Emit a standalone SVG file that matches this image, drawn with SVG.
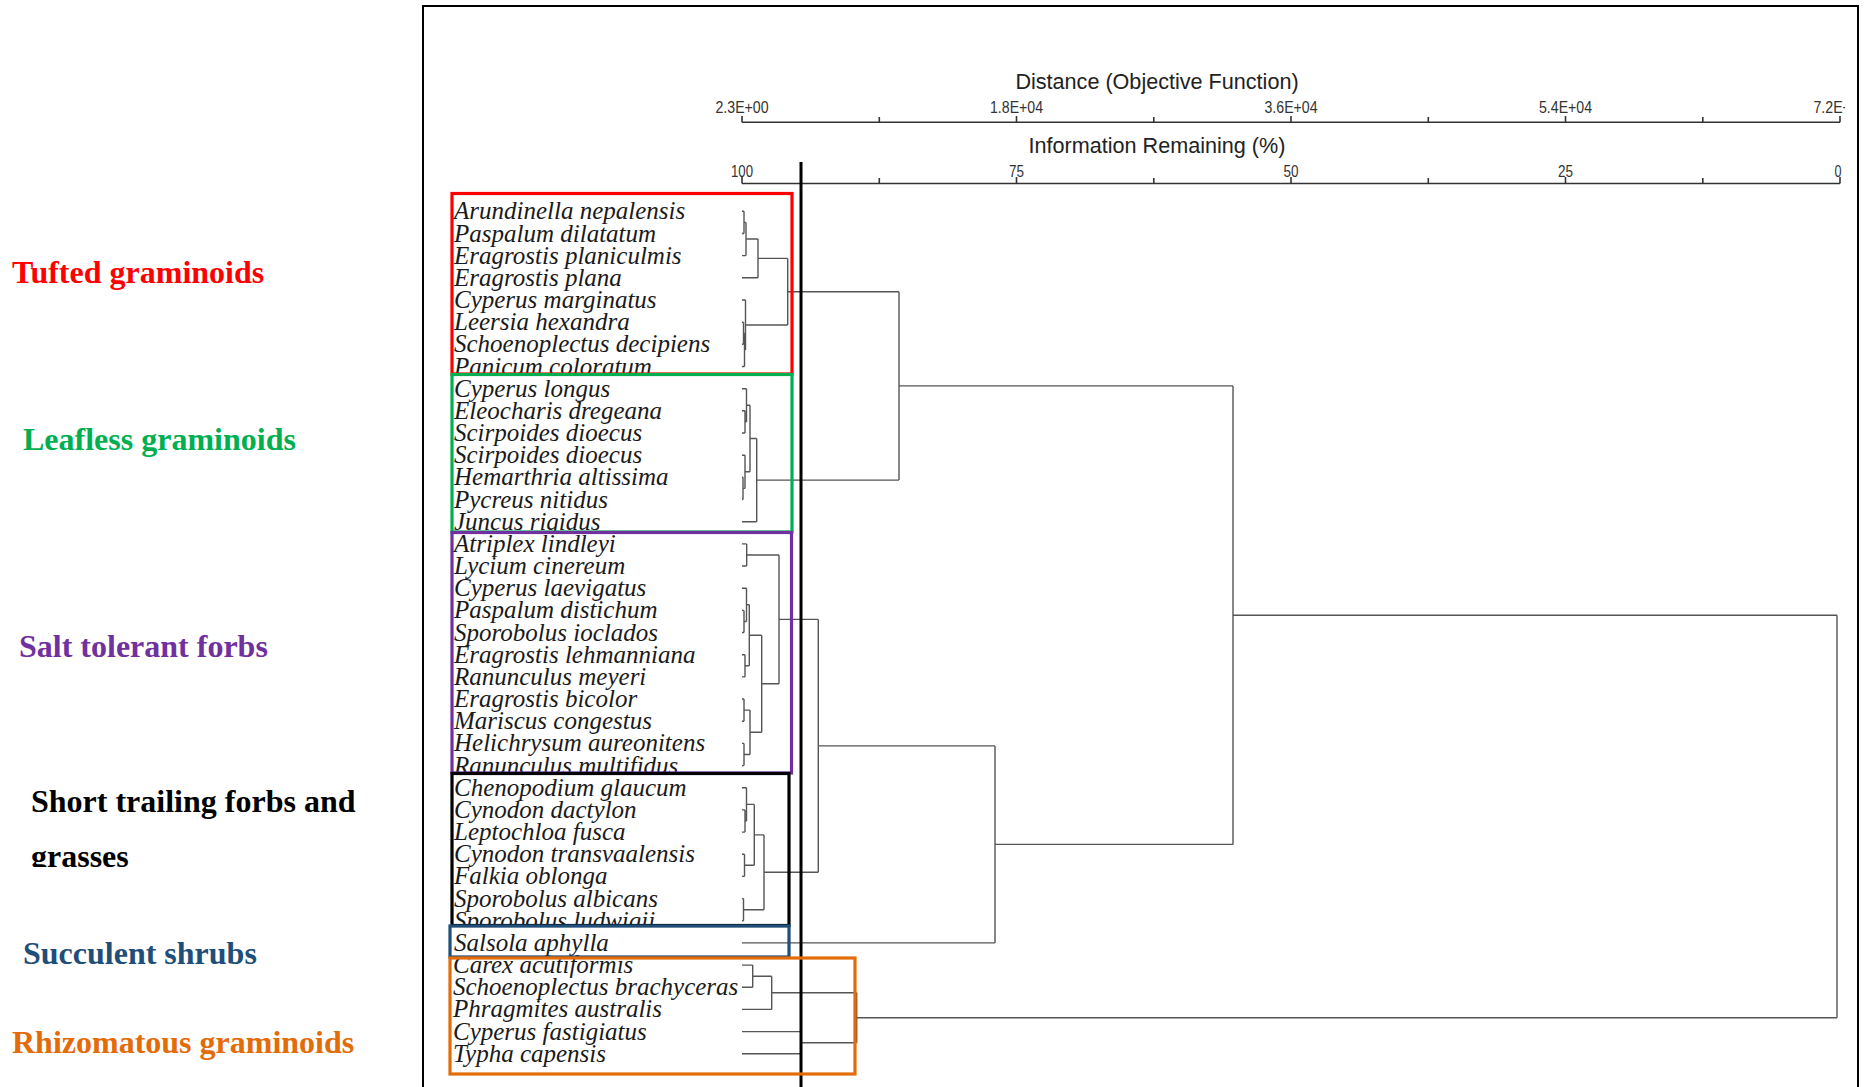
<svg xmlns="http://www.w3.org/2000/svg" width="1870" height="1087" viewBox="0 0 1870 1087">
<style>
.sp{font-family:"Liberation Serif","Times New Roman",serif;font-style:italic;font-size:25px;fill:#1a1a1a}
.grp{font-family:"Liberation Serif","Times New Roman",serif;font-weight:bold;font-size:32px}
.ax{font-family:"Liberation Sans",Arial,sans-serif;fill:#222}
.tk{font-family:"Liberation Sans",Arial,sans-serif;font-size:16px;fill:#333}
.box{fill:none;stroke-width:3.2}
.axl{fill:none;stroke:#333;stroke-width:1.6}
.den{fill:none;stroke:#555;stroke-width:1.4}
</style>
<defs>
<clipPath id="c7"><rect x="0" y="0" width="1870" height="373"/></clipPath>
<clipPath id="c14"><rect x="0" y="0" width="1870" height="531"/></clipPath>
<clipPath id="c25"><rect x="0" y="0" width="1870" height="772"/></clipPath>
<clipPath id="c32"><rect x="0" y="0" width="1870" height="924.5"/></clipPath>
<clipPath id="c33"><rect x="0" y="0" width="1870" height="956"/></clipPath>
<clipPath id="cgr"><rect x="0" y="0" width="420" height="867"/></clipPath>
<clipPath id="cfr"><rect x="0" y="0" width="1845" height="1087"/></clipPath>
</defs>
<rect width="1870" height="1087" fill="#fff"/>

<g id="frame"><rect x="423" y="6" width="1435" height="1090" fill="none" stroke="#000" stroke-width="2"/></g>

<g id="axis-distance">
<text class="ax" x="1157" y="89" font-size="21.6" text-anchor="middle">Distance (Objective Function)</text>
<path class="axl" d="M742 122.3H1840 M742 116V122.3 M879.3 117V122.3 M1016.5 116V122.3 M1153.8 117V122.3 M1291 116V122.3 M1428.3 117V122.3 M1565.5 116V122.3 M1702.8 117V122.3 M1840 116V122.3"/>
<g clip-path="url(#cfr)">
<text class="tk" x="742" y="113" text-anchor="middle" textLength="53" lengthAdjust="spacingAndGlyphs">2.3E+00</text>
<text class="tk" x="1016.5" y="113" text-anchor="middle" textLength="53" lengthAdjust="spacingAndGlyphs">1.8E+04</text>
<text class="tk" x="1291" y="113" text-anchor="middle" textLength="53" lengthAdjust="spacingAndGlyphs">3.6E+04</text>
<text class="tk" x="1565.5" y="113" text-anchor="middle" textLength="53" lengthAdjust="spacingAndGlyphs">5.4E+04</text>
<text class="tk" x="1840" y="113" text-anchor="middle" textLength="53" lengthAdjust="spacingAndGlyphs">7.2E+04</text>
</g>
</g>

<g id="axis-information">
<text class="ax" x="1157" y="153" font-size="21.6" text-anchor="middle">Information Remaining (%)</text>
<path class="axl" d="M742 183.5H1840 M742 177V183.5 M879.3 178V183.5 M1016.5 177V183.5 M1153.8 178V183.5 M1291 177V183.5 M1428.3 178V183.5 M1565.5 177V183.5 M1702.8 178V183.5 M1840 177V183.5"/>
<text class="tk" x="742" y="176.5" text-anchor="middle" textLength="22" lengthAdjust="spacingAndGlyphs">100</text>
<text class="tk" x="1016.5" y="176.5" text-anchor="middle" textLength="15" lengthAdjust="spacingAndGlyphs">75</text>
<text class="tk" x="1291" y="176.5" text-anchor="middle" textLength="15" lengthAdjust="spacingAndGlyphs">50</text>
<text class="tk" x="1565.5" y="176.5" text-anchor="middle" textLength="15" lengthAdjust="spacingAndGlyphs">25</text>
<text class="tk" x="1838" y="176.5" text-anchor="middle" textLength="7" lengthAdjust="spacingAndGlyphs">0</text>
</g>

<g id="group-labels">
<g id="lbl-tufted"><text class="grp" x="12" y="283" fill="#FF0000">Tufted graminoids</text></g>
<g id="lbl-leafless"><text class="grp" x="23" y="450" fill="#00B050">Leafless graminoids</text></g>
<g id="lbl-salt"><text class="grp" x="19" y="657" fill="#7030A0">Salt tolerant forbs</text></g>
<g id="lbl-short"><text class="grp" x="31" y="812" fill="#000">Short trailing forbs and</text><text class="grp" x="31" y="866.5" fill="#000" clip-path="url(#cgr)">grasses</text></g>
<g id="lbl-succulent"><text class="grp" x="23" y="964" fill="#1F4E79">Succulent shrubs</text></g>
<g id="lbl-rhizo"><text class="grp" x="12" y="1053" fill="#E36C09">Rhizomatous graminoids</text></g>
</g>

<g id="species">
<text class="sp" x="454" y="219.3">Arundinella nepalensis</text>
<text class="sp" x="454" y="241.5">Paspalum dilatatum</text>
<text class="sp" x="454" y="263.6">Eragrostis planiculmis</text>
<text class="sp" x="454" y="285.8">Eragrostis plana</text>
<text class="sp" x="454" y="308">Cyperus marginatus</text>
<text class="sp" x="454" y="330.2">Leersia hexandra</text>
<text class="sp" x="454" y="352.3">Schoenoplectus decipiens</text>
<text class="sp" x="454" y="374.5" clip-path="url(#c7)">Panicum coloratum</text>
<text class="sp" x="454" y="396.7">Cyperus longus</text>
<text class="sp" x="454" y="418.8">Eleocharis dregeana</text>
<text class="sp" x="454" y="441">Scirpoides dioecus</text>
<text class="sp" x="454" y="463.2">Scirpoides dioecus</text>
<text class="sp" x="454" y="485.3">Hemarthria altissima</text>
<text class="sp" x="454" y="507.5">Pycreus nitidus</text>
<text class="sp" x="454" y="529.7" clip-path="url(#c14)">Juncus rigidus</text>
<text class="sp" x="454" y="551.9">Atriplex lindleyi</text>
<text class="sp" x="454" y="574">Lycium cinereum</text>
<text class="sp" x="454" y="596.2">Cyperus laevigatus</text>
<text class="sp" x="454" y="618.4">Paspalum distichum</text>
<text class="sp" x="454" y="640.5">Sporobolus ioclados</text>
<text class="sp" x="454" y="662.7">Eragrostis lehmanniana</text>
<text class="sp" x="454" y="684.9">Ranunculus meyeri</text>
<text class="sp" x="454" y="707">Eragrostis bicolor</text>
<text class="sp" x="454" y="729.2">Mariscus congestus</text>
<text class="sp" x="454" y="751.4">Helichrysum aureonitens</text>
<text class="sp" x="454" y="773.6" clip-path="url(#c25)">Ranunculus multifidus</text>
<text class="sp" x="454" y="795.7">Chenopodium glaucum</text>
<text class="sp" x="454" y="817.9">Cynodon dactylon</text>
<text class="sp" x="454" y="840.1">Leptochloa fusca</text>
<text class="sp" x="454" y="862.2">Cynodon transvaalensis</text>
<text class="sp" x="454" y="884.4">Falkia oblonga</text>
<text class="sp" x="454" y="906.6">Sporobolus albicans</text>
<text class="sp" x="454" y="928.7" clip-path="url(#c32)">Sporobolus ludwigii</text>
<text class="sp" x="454" y="950.9" clip-path="url(#c33)">Salsola aphylla</text>
<text class="sp" x="453" y="973.1">Carex acutiformis</text>
<text class="sp" x="453" y="995.3">Schoenoplectus brachyceras</text>
<text class="sp" x="453" y="1017.4">Phragmites australis</text>
<text class="sp" x="453" y="1039.6">Cyperus fastigiatus</text>
<text class="sp" x="453" y="1061.8">Typha capensis</text>
</g>

<g id="connectors">
<path class="den" d="M742 211.3H744 M742 233.5H744 M744 211.3V233.5 M744 222.4H746 M742 255.6H746 M746 222.4V255.6 M746 239H758 M742 277.8H758 M758 239V277.8 M758 258.4H787.7 M742 322.2H743.5 M742 344.3H743.5 M743.5 322.2V344.3 M743.5 333.3H744.5 M742 366.5H744.5 M744.5 333.3V366.5 M742 300H745.5 M744.5 349.9H745.5 M745.5 300V349.9 M745.5 325H787.7 M787.7 258.4V325 M787.7 291.7H899"/>
<path class="den" d="M742 410.8H745 M742 433H745 M745 410.8V433 M745 421.9H746.5 M742 388.7H746.5 M746.5 388.7V421.9 M746.5 405.3H750 M742 477.3H743 M742 499.5H743 M743 477.3V499.5 M743 488.4H745 M742 455.2H745 M745 455.2V488.4 M745 471.8H750 M750 405.3V471.8 M750 438.5H756.7 M742 521.7H756.7 M756.7 438.5V521.7 M756.7 480.1H899 M899 291.7V480.1 M899 385.9H1233"/>
<path class="den" d="M742 543.9H746.7 M742 566H746.7 M746.7 543.9V566 M746.7 555H779 M742 610.4H744 M742 632.5H744 M744 610.4V632.5 M744 621.5H746.5 M742 588.2H746.5 M746.5 588.2V621.5 M746.5 604.8H749.3 M742 654.7H745 M742 676.9H745 M745 654.7V676.9 M745 665.8H749.3 M749.3 604.8V665.8 M749.3 635.3H761.7 M742 699H744 M742 721.2H744 M744 699V721.2 M744 710.1H750 M742 743.4H744 M742 765.6H744 M744 743.4V765.6 M744 754.5H750 M750 710.1V754.5 M750 732.3H761.7 M761.7 635.3V732.3 M761.7 683.8H779 M779 555V683.8 M779 619.4H818.3"/>
<path class="den" d="M742 809.9H745 M742 832.1H745 M745 809.9V832.1 M745 821H746.5 M742 787.7H746.5 M746.5 787.7V821 M746.5 804.4H754.3 M742 854.2H744.5 M742 876.4H744.5 M744.5 854.2V876.4 M744.5 865.3H754.3 M754.3 804.4V865.3 M754.3 834.9H764 M742 898.6H743.5 M742 920.7H743.5 M743.5 898.6V920.7 M743.5 909.7H764 M764 834.9V909.7 M764 872.3H818.3 M818.3 619.4V872.3 M818.3 745.9H995 M742 942.9H995 M995 745.9V942.9 M995 844.4H1233 M1233 385.9V844.4 M1233 615.2H1837"/>
<path class="den" d="M742 965.1H752.7 M742 987.3H752.7 M752.7 965.1V987.3 M752.7 976.2H771.7 M742 1009.4H771.7 M771.7 976.2V1009.4 M771.7 992.8H856.7 M742 1031.6H801 M742 1053.8H801 M801 1031.6V1053.8 M801 1042.7H856.7 M856.7 992.8V1042.7 M856.7 1017.8H1837 M1837 615.2V1017.8"/>
</g>

<g id="cut-line"><path d="M801 162V1087" stroke="#000" stroke-width="3"/></g>

<g id="boxes">
<g id="box-tufted"><rect class="box" x="452" y="193.5" width="340" height="180.5" stroke="#FF0000"/></g>
<g id="box-leafless"><rect class="box" x="452" y="374.5" width="340" height="157.5" stroke="#00B050"/></g>
<g id="box-salt"><rect class="box" x="452" y="532.5" width="339.5" height="240.5" stroke="#7030A0"/></g>
<g id="box-short"><rect class="box" x="452" y="773.5" width="337" height="152" stroke="#000"/></g>
<g id="box-succulent"><rect class="box" x="450" y="926" width="339" height="31" stroke="#1F4E79"/></g>
<g id="box-rhizo"><rect class="box" x="450" y="958" width="405" height="116" stroke="#E36C09"/></g>
</g>
</svg>
